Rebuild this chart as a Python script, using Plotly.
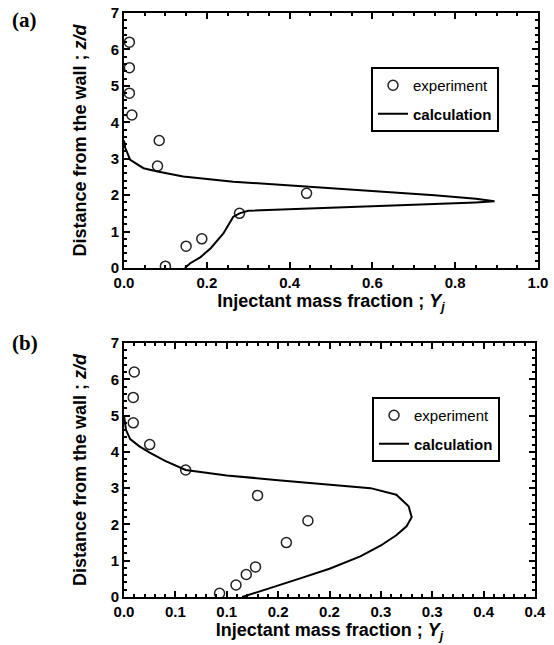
import plotly.graph_objects as go

# ---------------- data ----------------
# Panel (a)
exp_a_x = [0.013, 0.013, 0.013, 0.019, 0.085, 0.081, 0.279, 0.188, 0.150, 0.100, 0.441]
exp_a_y = [6.2, 5.5, 4.8, 4.2, 3.5, 2.8, 1.5, 0.8, 0.6, 0.05, 2.05]

calc_a_x = [0.0, 0.003, 0.015, 0.047, 0.081, 0.143, 0.264, 0.377, 0.5, 0.618, 0.75, 0.85, 0.895,
            0.85, 0.75, 0.618, 0.5, 0.377, 0.3, 0.279, 0.264, 0.24, 0.21, 0.185, 0.16, 0.147]
calc_a_y = [3.5, 3.3, 2.97, 2.74, 2.65, 2.51, 2.37, 2.28, 2.2, 2.1, 2.0, 1.9, 1.83,
            1.80, 1.76, 1.69, 1.65, 1.61, 1.57, 1.5, 1.41, 0.95, 0.55, 0.3, 0.13, 0.0]

# Panel (b)
exp_b_x = [0.010, 0.009, 0.009, 0.025, 0.060, 0.130, 0.179, 0.158, 0.128, 0.119, 0.109, 0.093]
exp_b_y = [6.2, 5.5, 4.8, 4.2, 3.5, 2.8, 2.1, 1.5, 0.83, 0.62, 0.33, 0.1]

calc_b_x = [0.0, 0.002, 0.006, 0.015, 0.025, 0.04, 0.06, 0.1, 0.15, 0.2, 0.24, 0.265, 0.277, 0.28,
            0.275, 0.265, 0.25, 0.23, 0.2, 0.17, 0.14, 0.115]
calc_b_y = [5.0, 4.6, 4.35, 4.15, 3.98, 3.75, 3.5, 3.35, 3.22, 3.1, 3.0, 2.82, 2.5, 2.2,
            1.95, 1.7, 1.42, 1.12, 0.78, 0.5, 0.22, 0.0]

y_ticks = [0, 1, 2, 3, 4, 5, 6, 7]
xa_ticks = [0.0, 0.2, 0.4, 0.6, 0.8, 1.0]
xb_tickvals = [0.0, 0.05, 0.1, 0.15, 0.2, 0.25, 0.3, 0.35, 0.4]
xb_ticktext = ["0.0", "0.1", "0.1", "0.2", "0.2", "0.3", "0.3", "0.4", "0.4"]

# ---------------- figure ----------------
W, H = 554, 645
FONT = "Liberation Sans, Arial, sans-serif"

def px_x(p):
    return p / W

def px_y(p):
    return 1 - p / H

fig = go.Figure()

marker = dict(symbol="circle-open", size=10, color="#222", line=dict(width=1.5, color="#222"))
line = dict(color="black", width=2)

fig.add_trace(go.Scatter(x=exp_a_x, y=exp_a_y, mode="markers", marker=marker,
                         name="experiment", legendgroup="e", xaxis="x", yaxis="y", legend="legend"))
fig.add_trace(go.Scatter(x=calc_a_x, y=calc_a_y, mode="lines", line=line,
                         name="<b>calculation</b>", legendgroup="c", xaxis="x", yaxis="y", legend="legend"))
fig.add_trace(go.Scatter(x=exp_b_x, y=exp_b_y, mode="markers", marker=marker,
                         name="experiment", legendgroup="e2", xaxis="x2", yaxis="y2", legend="legend2"))
fig.add_trace(go.Scatter(x=calc_b_x, y=calc_b_y, mode="lines", line=line,
                         name="<b>calculation</b>", legendgroup="c2", xaxis="x2", yaxis="y2", legend="legend2"))

axis_common = dict(
    showline=True, linecolor="black", linewidth=2, mirror="ticks",
    ticks="inside", ticklen=6, tickwidth=2, tickcolor="black",
    showgrid=False, zeroline=False, automargin=False,
    tickfont=dict(family=FONT, size=15, color="black", weight="bold"),
)

title_font = dict(family=FONT, size=18, color="black", weight="bold")

xa = dict(axis_common, domain=[px_x(124), px_x(538)], anchor="y", range=[0, 1.0],
          tickvals=xa_ticks, tickformat=".1f",
          minor=dict(dtick=0.05, ticks="inside", ticklen=3, tickwidth=1.5, tickcolor="black"),
          title=dict(text="Injectant mass fraction ; <i>Y</i><sub><i>j</i></sub>", font=title_font, standoff=3))
ya = dict(axis_common, domain=[px_y(268), px_y(13)], anchor="x", range=[0, 7],
          tickvals=y_ticks,
          minor=dict(dtick=0.2, ticks="inside", ticklen=3, tickwidth=1.5, tickcolor="black"),
          title=dict(text="Distance from the wall ; <i>z/d</i>", font=title_font, standoff=19))
xb = dict(axis_common, domain=[px_x(124), px_x(535)], anchor="y2", range=[0, 0.4],
          tickvals=xb_tickvals, ticktext=xb_ticktext,
          minor=dict(dtick=0.01, ticks="inside", ticklen=3, tickwidth=1.5, tickcolor="black"),
          title=dict(text="Injectant mass fraction ; <i>Y</i><sub><i>j</i></sub>", font=title_font, standoff=3))
yb = dict(axis_common, domain=[px_y(597), px_y(343)], anchor="x2", range=[0, 7],
          tickvals=y_ticks,
          minor=dict(dtick=0.2, ticks="inside", ticklen=3, tickwidth=1.5, tickcolor="black"),
          title=dict(text="Distance from the wall ; <i>z/d</i>", font=title_font, standoff=19))

legend_common = dict(
    bgcolor="white", bordercolor="black", borderwidth=2,
    font=dict(family=FONT, size=15, color="black"),
    xanchor="right", yanchor="top", tracegroupgap=6, itemwidth=30,
)

fig.update_layout(
    width=W, height=H,
    margin=dict(l=0, r=0, t=0, b=0),
    paper_bgcolor="white", plot_bgcolor="white",
    xaxis=xa, yaxis=ya, xaxis2=xb, yaxis2=yb,
    legend=dict(legend_common, x=px_x(499), y=px_y(67)),
    legend2=dict(legend_common, x=px_x(500), y=px_y(397)),
    showlegend=True,
    annotations=[
        dict(text="<b>(a)</b>", x=px_x(10), y=px_y(6), xref="paper", yref="paper",
             xanchor="left", yanchor="top", showarrow=False,
             font=dict(family="Liberation Serif, Times New Roman, serif", size=21, color="black")),
        dict(text="<b>(b)</b>", x=px_x(10), y=px_y(329), xref="paper", yref="paper",
             xanchor="left", yanchor="top", showarrow=False,
             font=dict(family="Liberation Serif, Times New Roman, serif", size=21, color="black")),
    ],
)

fig.write_html("out.html")
